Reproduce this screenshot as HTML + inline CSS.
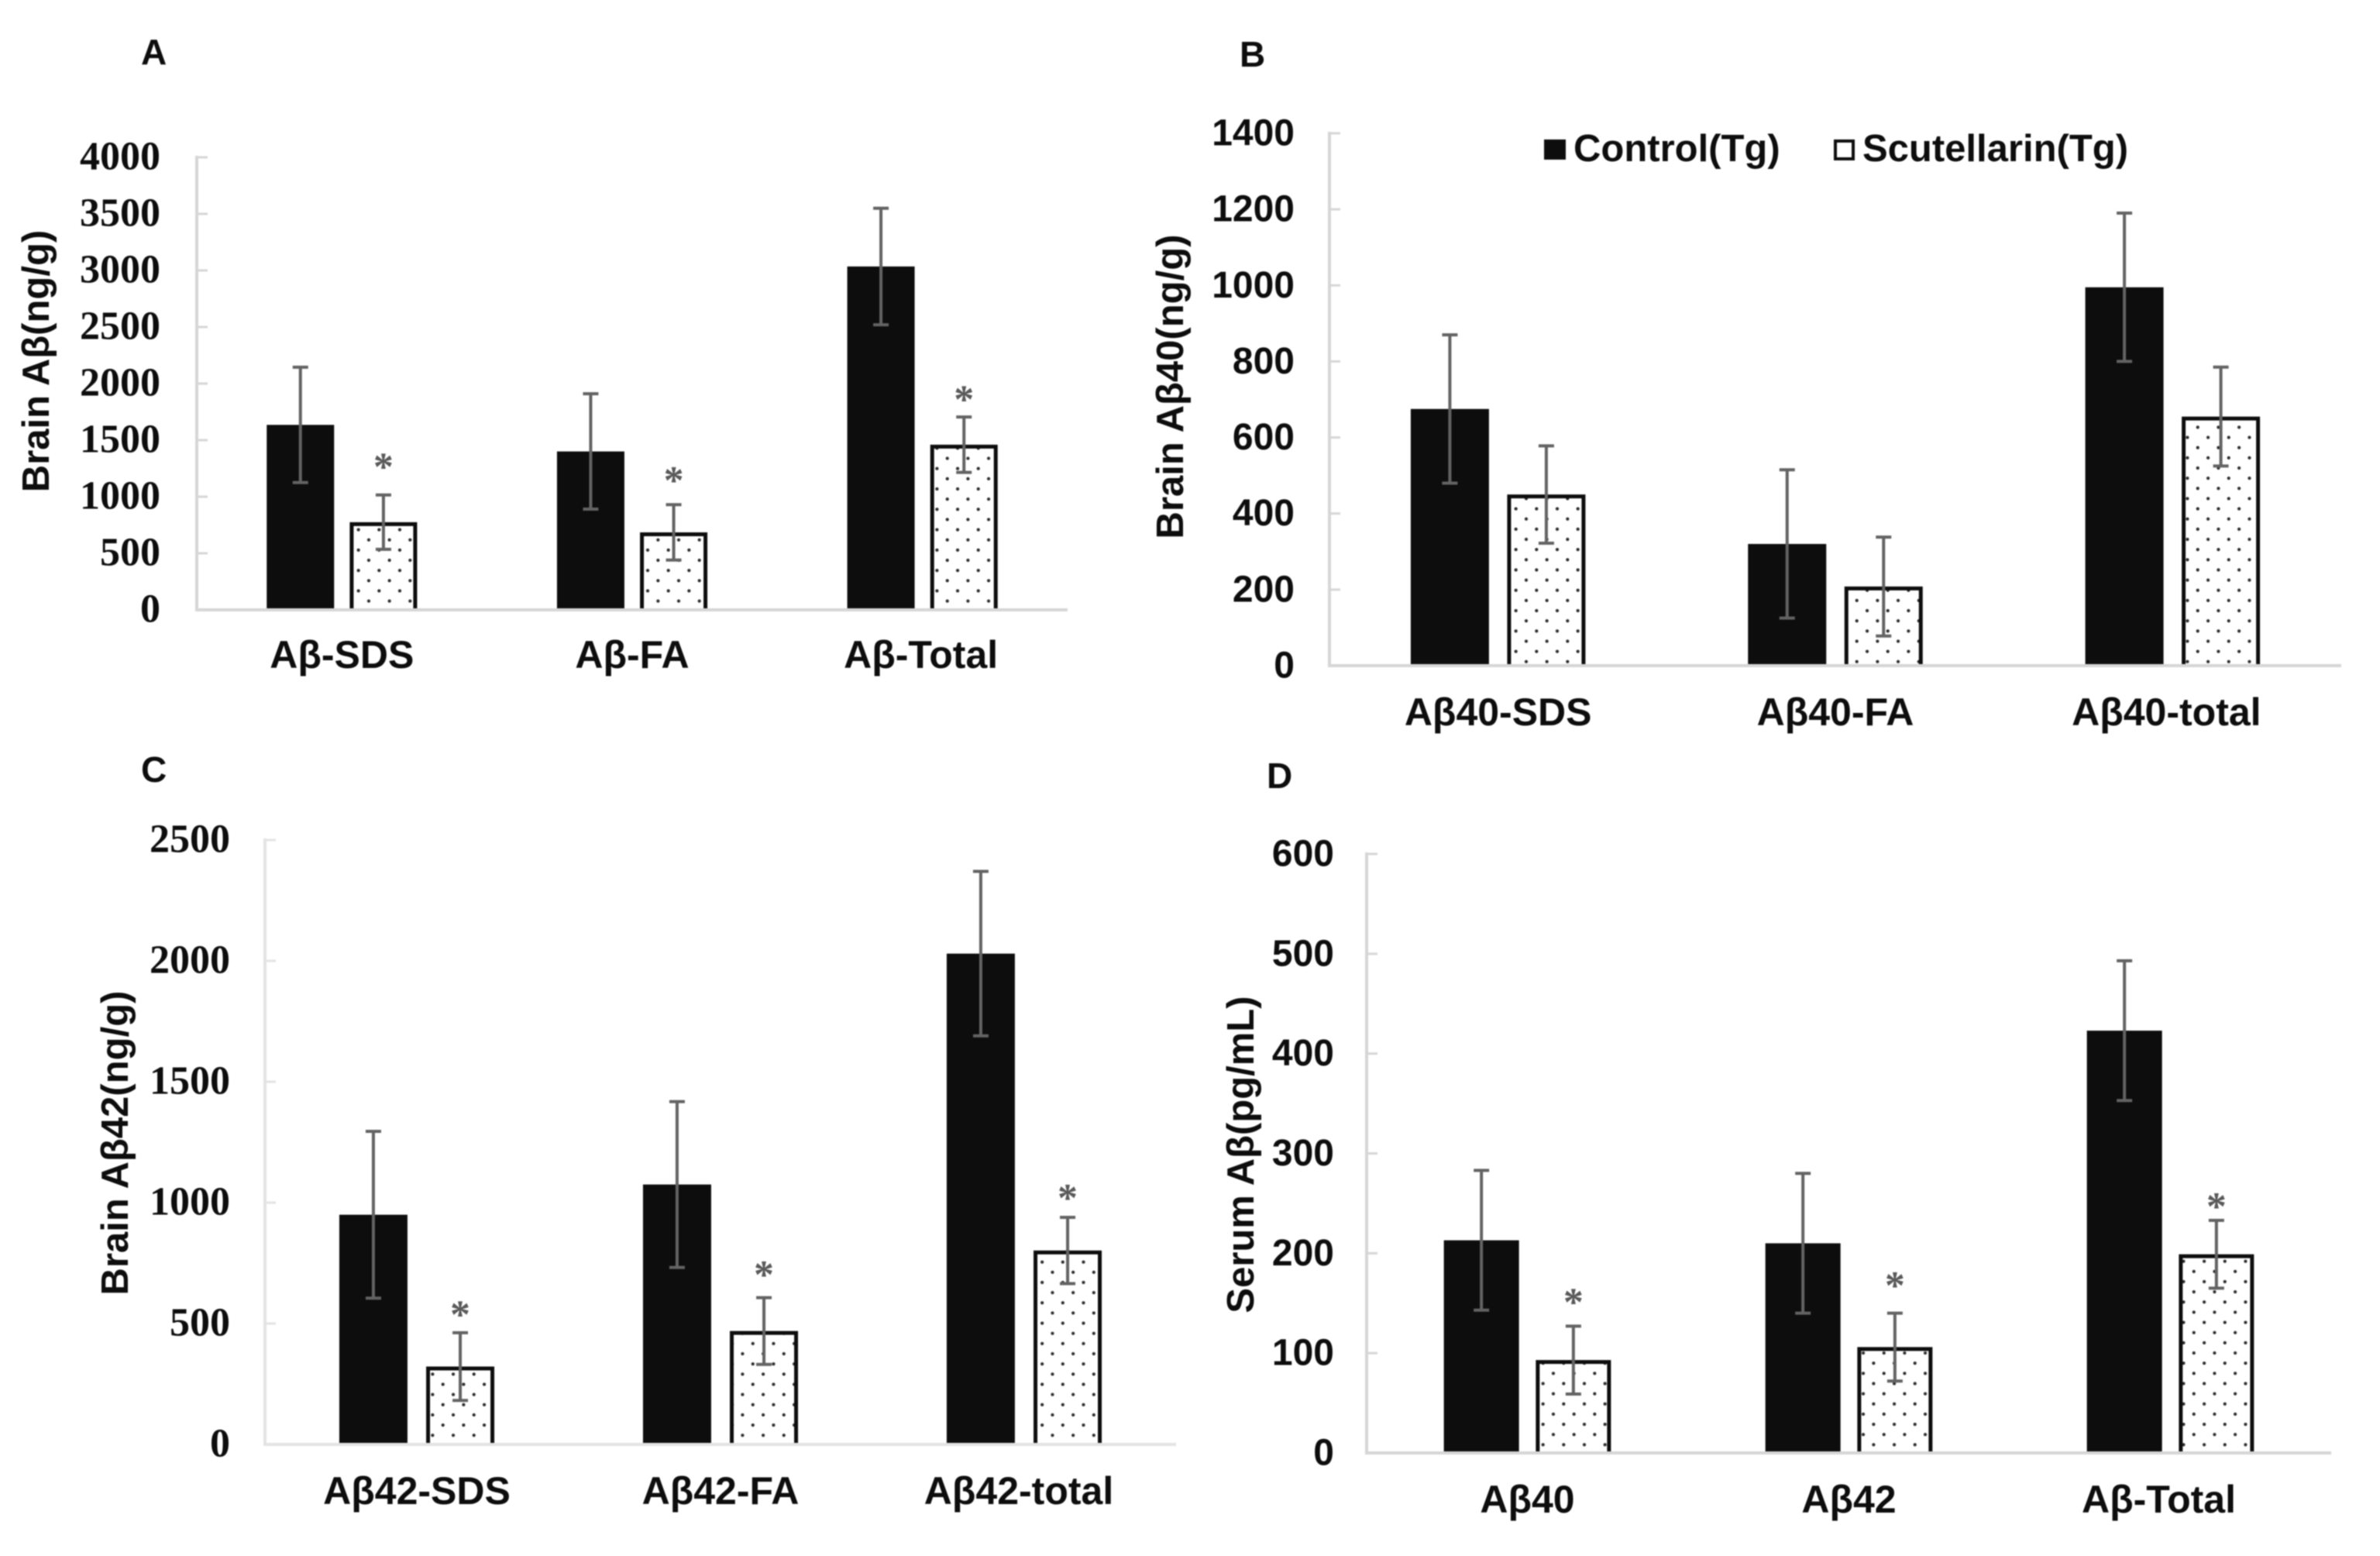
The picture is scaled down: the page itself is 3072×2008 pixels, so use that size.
<!DOCTYPE html>
<html lang="en">
<head>
<meta charset="utf-8">
<title>Brain and serum amyloid-beta levels</title>
<style>
html,body{margin:0;padding:0;background:#fff;}
svg{display:block;filter:blur(0.7px);}
text{font-family:"Liberation Sans",sans-serif;font-weight:bold;fill:#0d0d0d;}
.serif{font-family:"Liberation Serif",serif;}
</style>
</head>
<body>
<svg id="figure" xmlns="http://www.w3.org/2000/svg" width="3072" height="2008" viewBox="0 0 3072 2008">
  <rect x="0" y="0" width="3072" height="2008" fill="#ffffff"/>
  <g>
    <g>
      <rect x="1993" y="180" width="28" height="26" fill="#0d0d0d"/>
      <text x="2031" y="208" font-size="49">Control(Tg)</text>
    </g>
    <g>
      <rect x="2369" y="182" width="23" height="23" fill="#ffffff" stroke="#0d0d0d" stroke-width="4"/>
      <text x="2404" y="208" font-size="49">Scutellarin(Tg)</text>
    </g>
  </g>
</svg>
<script>
const panelACategories = ['Aβ-SDS', 'Aβ-FA', 'Aβ-Total'];
const panelAControl = [1635, 1400, 3035];
const panelAScutellarin = [775, 685, 1460];
const panelAControlError = [510, 510, 515];
const panelAScutellarinError = [240, 245, 245];
const panelAStars = [1320, 1197, 1916];
const panelATicks = [0, 500, 1000, 1500, 2000, 2500, 3000, 3500, 4000];

const panelBCategories = ['Aβ40-SDS', 'Aβ40-FA', 'Aβ40-total'];
const panelBControl = [675, 320, 995];
const panelBScutellarin = [450, 208, 655];
const panelBControlError = [195, 195, 195];
const panelBScutellarinError = [128, 130, 130];
const panelBStars = [null, null, null];
const panelBTicks = [0, 200, 400, 600, 800, 1000, 1200, 1400];

const panelCCategories = ['Aβ42-SDS', 'Aβ42-FA', 'Aβ42-total'];
const panelCControl = [950, 1075, 2030];
const panelCScutellarin = [322, 469, 802];
const panelCControlError = [345, 343, 340];
const panelCScutellarinError = [140, 138, 137];
const panelCStars = [562, 727, 1045];
const panelCTicks = [0, 500, 1000, 1500, 2000, 2500];

const panelDCategories = ['Aβ40', 'Aβ42', 'Aβ-Total'];
const panelDControl = [213, 210, 423];
const panelDScutellarin = [93, 106, 199];
const panelDControlError = [70, 70, 70];
const panelDScutellarinError = [34, 34, 34];
const panelDStars = [157, 174, 253];
const panelDTicks = [0, 100, 200, 300, 400, 500, 600];

const SVG_NS = 'http://www.w3.org/2000/svg';
const figure = document.getElementById('figure');

function make(tag, attrs, parent, content) {
  const node = document.createElementNS(SVG_NS, tag);
  Object.keys(attrs).forEach(function (key) { node.setAttribute(key, attrs[key]); });
  if (content !== undefined) node.textContent = content;
  parent.appendChild(node);
  return node;
}

function drawPanel(cfg) {
  const panel = make('g', {}, figure);
  
  

  const yMax = Math.max.apply(null, cfg.ticks);
  const yScale = function (v) { return cfg.bottom - (v / yMax) * (cfg.bottom - cfg.top); };
  const bandWidth = (cfg.right - cfg.left) / cfg.categories.length;
  const xCenter = function (i) { return cfg.left + (i + 0.5) * bandWidth; };
  const barOffset = bandWidth * 0.143;

  const letter = make('text', { x: cfg.letterX, y: cfg.letterY, 'font-size': 46 }, panel, cfg.id.toUpperCase());
  
  

  const title = make('text', {
    x: 0, y: 0, 'font-size': cfg.titleSize, 'text-anchor': 'middle',
    transform: 'translate(' + cfg.titleX + ' ' + cfg.titleY + ') rotate(-90)'
  }, panel, cfg.title);
  
  

  const defs = make('defs', {}, panel);
  const patternId = 'dots-' + cfg.id;
  const pattern = make('pattern', {
    id: patternId, patternUnits: 'userSpaceOnUse', width: 26.67, height: 26.3,
    x: cfg.dotX, y: cfg.dotY
  }, defs);
  make('rect', { x: 0, y: 0, width: 26.67, height: 26.3, fill: '#ffffff' }, pattern);
  make('circle', { cx: 6.65, cy: 6.6, r: 2.1, fill: '#2a2a2a' }, pattern);
  make('circle', { cx: 19.98, cy: 19.75, r: 2.1, fill: '#2a2a2a' }, pattern);

  cfg.categories.forEach(function (category, i) {
    const group = make('g', {}, panel);
    
    

    const cx1 = xCenter(i) - barOffset;
    const cx2 = xCenter(i) + barOffset;
    const w = cfg.barWidth;

    const controlBar = make('rect', {
      x: cx1 - w / 2, y: yScale(cfg.control[i]), width: w,
      height: yScale(0) - yScale(cfg.control[i]), fill: '#0d0d0d'
    }, group);
    
    

    const barLeft = cx2 - w / 2 + 2.5;
    const barRight = cx2 + w / 2 - 2.5;
    const barTop = yScale(cfg.scutellarin[i]) + 2.5;
    const treatedBar = make('path', {
      d: 'M' + barLeft + ' ' + yScale(0) + 'V' + barTop + 'H' + barRight + 'V' + yScale(0),
      fill: 'url(#' + patternId + ')', stroke: '#0d0d0d', 'stroke-width': 5
    }, group);
    
    

    [[cx1, cfg.control[i], cfg.controlError[i], 'control'],
     [cx2, cfg.scutellarin[i], cfg.scutellarinError[i], 'scutellarin']].forEach(function (e) {
      const hi = yScale(e[1] + e[2]);
      const lo = yScale(e[1] - e[2]);
      const err = make('path', {
        d: 'M' + e[0] + ' ' + hi + 'V' + lo + 'M' + (e[0] - 10) + ' ' + hi + 'H' + (e[0] + 10) +
           'M' + (e[0] - 10) + ' ' + lo + 'H' + (e[0] + 10),
        fill: 'none', stroke: '#636363', 'stroke-width': 4
      }, group);
      
      
    });

    if (cfg.stars[i] !== null) {
      const star = make('text', {
        x: cx2, y: yScale(cfg.stars[i]) + 25,
        'font-size': 52, 'text-anchor': 'middle', class: 'serif', style: 'fill:#595959'
      }, group, '*');
      
      
    }

    const nudge = i === cfg.categories.length - 1 ? cfg.lastLabelShift : 0;
    const label = make('text', {
      x: xCenter(i) + nudge, y: cfg.labelY, 'font-size': 50, 'text-anchor': 'middle'
    }, group, category);
    
    
  });

  const yAxis = make('line', {
    x1: cfg.left, x2: cfg.left, y1: cfg.top - 2, y2: cfg.bottom + 2, stroke: cfg.axisColor, 'stroke-width': 4
  }, panel);
  
  

  const xAxis = make('line', {
    x1: cfg.left, x2: cfg.right, y1: cfg.bottom, y2: cfg.bottom, stroke: cfg.axisColor, 'stroke-width': 4
  }, panel);
  
  

  cfg.ticks.forEach(function (tick) {
    const y = yScale(tick);
    const mark = make('line', {
      x1: cfg.left, x2: cfg.left + 14, y1: y, y2: y, stroke: cfg.axisColor, 'stroke-width': 3
    }, panel);
    
    

    const tickLabel = make('text', {
      x: cfg.left - cfg.tickGap, y: y + 15.5,
      'font-size': cfg.tickSize, 'text-anchor': 'end', class: cfg.serif ? 'serif' : ''
    }, panel, String(tick));
    
    
  });
}

drawPanel({
  id: 'a', categories: panelACategories, control: panelAControl, scutellarin: panelAScutellarin,
  controlError: panelAControlError, scutellarinError: panelAScutellarinError,
  stars: panelAStars, ticks: panelATicks,
  left: 254, right: 1378, top: 203, bottom: 787, barWidth: 87, labelY: 862, lastLabelShift: -2,
  letterX: 182, letterY: 83, title: 'Brain Aβ(ng/g)', titleX: 63, titleY: 466, titleSize: 49,
  tickGap: 47, tickSize: 52, serif: true, dotX: 456, dotY: 677, axisColor: '#d6d6d6'
});

drawPanel({
  id: 'b', categories: panelBCategories, control: panelBControl, scutellarin: panelBScutellarin,
  controlError: panelBControlError, scutellarinError: panelBScutellarinError,
  stars: panelBStars, ticks: panelBTicks,
  left: 1716, right: 3022, top: 172, bottom: 859, barWidth: 101, labelY: 936, lastLabelShift: -8,
  letterX: 1600, letterY: 86, title: 'Brain Aβ40(ng/g)', titleX: 1527, titleY: 499, titleSize: 49,
  tickGap: 45, tickSize: 48, serif: false, dotX: 1950, dotY: 650, axisColor: '#d6d6d6'
});

drawPanel({
  id: 'c', categories: panelCCategories, control: panelCControl, scutellarin: panelCScutellarin,
  controlError: panelCControlError, scutellarinError: panelCScutellarinError,
  stars: panelCStars, ticks: panelCTicks,
  left: 342, right: 1518, top: 1084, bottom: 1864, barWidth: 88, labelY: 1941, lastLabelShift: -7,
  letterX: 182, letterY: 1009, title: 'Brain Aβ42(ng/g)', titleX: 165, titleY: 1475, titleSize: 49,
  tickGap: 45, tickSize: 52, serif: true, dotX: 1338.5, dotY: 1701, axisColor: '#e3e3e3'
});

drawPanel({
  id: 'd', categories: panelDCategories, control: panelDControl, scutellarin: panelDScutellarin,
  controlError: panelDControlError, scutellarinError: panelDScutellarinError,
  stars: panelDStars, ticks: panelDTicks,
  left: 1764, right: 3009, top: 1102, bottom: 1875, barWidth: 97, labelY: 1952, lastLabelShift: -15,
  letterX: 1635, letterY: 1017, title: 'Serum Aβ(pg/mL)', titleX: 1618, titleY: 1490, titleSize: 49,
  tickGap: 42, tickSize: 48, serif: false, dotX: 1985, dotY: 1700, axisColor: '#d6d6d6'
});
</script>
</body>
</html>
